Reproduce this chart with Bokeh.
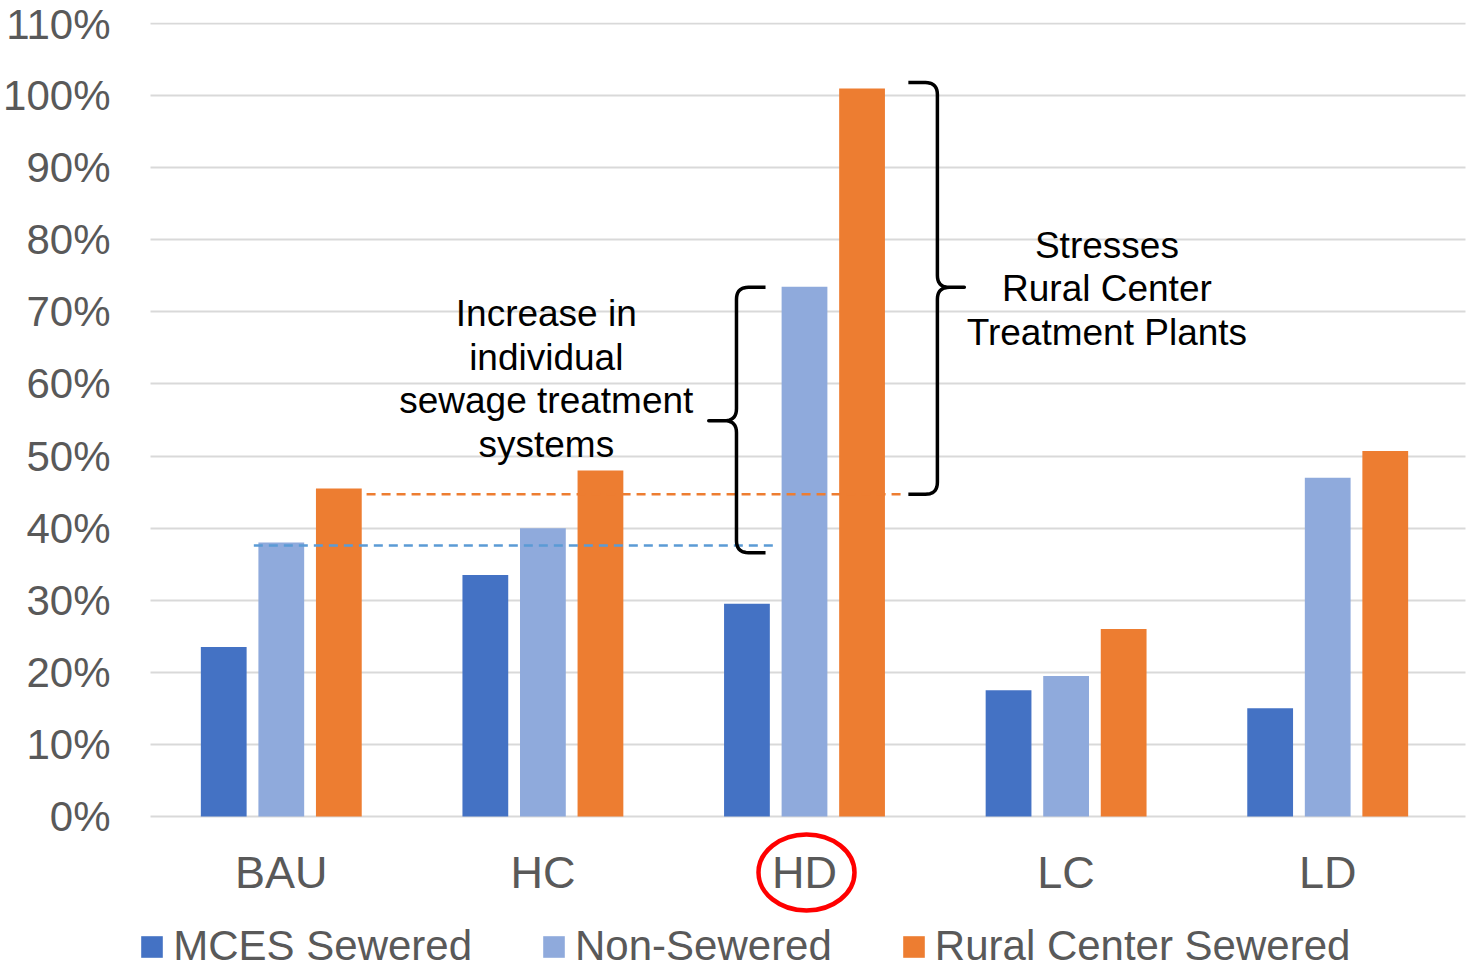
import numpy as np
from bokeh.plotting import figure
from bokeh.models import (FactorRange, Range1d, FixedTicker, PrintfTickFormatter,
                          Legend, LegendItem, Label, ColumnDataSource)
from bokeh.transform import dodge
from bokeh.embed import file_html
from bokeh.resources import INLINE

# ---------------- data ----------------
categories = ["BAU", "HC", "HD", "LC", "LD"]
mces_sewered = [23.5, 33.5, 29.5, 17.5, 15.0]
non_sewered = [38.0, 40.0, 73.5, 19.5, 47.0]
rural_center_sewered = [45.5, 48.0, 101.0, 26.0, 50.7]
series_names = ["MCES Sewered", "Non-Sewered", "Rural Center Sewered"]
series_colors = ["#4472C4", "#8FAADC", "#ED7D31"]
y_ticks = [0, 10, 20, 30, 40, 50, 60, 70, 80, 90, 100, 110]

# annotation levels (percent) and labels
blue_ref_level = 37.6
orange_ref_level = 44.7
left_brace_span = [73.4, 54.9, 36.6]      # top, tip, bottom
right_brace_span = [101.8, 73.4, 44.7]    # top, tip, bottom
note_left = "Increase in\nindividual\nsewage treatment\nsystems"
note_right = "Stresses\nRural Center\nTreatment Plants"
highlight_category = "HD"

FONT = "Liberation Sans"
GRAY = "#595959"

W, H = 1467, 968
FRAME_L, FRAME_R, FRAME_T = 139, 0, 22
PX_PER_CAT = 262.0
PAD = 9.0 / PX_PER_CAT
PX_PER_PCT = 793.0 / 110.0
Y_END = 110 + 1.0 / PX_PER_PCT
Y_START = Y_END - (H - FRAME_T) / PX_PER_PCT

source = ColumnDataSource(dict(cat=categories, s0=mces_sewered,
                               s1=non_sewered, s2=rural_center_sewered))

p = figure(width=W, height=H,
           x_range=FactorRange(*categories, range_padding=PAD, range_padding_units="absolute"),
           y_range=Range1d(Y_START, Y_END), output_backend="svg", toolbar_location=None,
           min_border_left=FRAME_L, min_border_right=FRAME_R, min_border_top=FRAME_T,
           min_border_bottom=0)
p.outline_line_color = None

offsets = [-0.22, 0.0, 0.22]
renderers = []
for i, (name, col) in enumerate(zip(series_names, series_colors)):
    r = p.vbar(x=dodge("cat", offsets[i], range=p.x_range), top="s%d" % i,
               width=0.175, source=source, fill_color=col, line_color=None)
    renderers.append(r)

# axes
p.yaxis.ticker = FixedTicker(ticks=y_ticks)
p.yaxis.formatter = PrintfTickFormatter(format="%d%%")
p.yaxis.axis_line_color = None
p.yaxis.major_tick_line_color = None
p.yaxis.minor_tick_line_color = None
p.yaxis.major_tick_out = 0
p.yaxis.major_label_standoff = 31
p.yaxis.major_label_text_font = FONT
p.yaxis.major_label_text_font_size = "42px"
p.yaxis.major_label_text_color = GRAY

p.xaxis.fixed_location = 0
p.xaxis.axis_line_color = None
p.xaxis.major_tick_line_color = None
p.xaxis.major_tick_out = 0
p.xaxis.major_label_standoff = 30
p.xaxis.major_label_text_font = FONT
p.xaxis.major_label_text_font_size = "45px"
p.xaxis.major_label_text_color = GRAY

p.xgrid.grid_line_color = None
p.ygrid.grid_line_color = "#D9D9D9"
p.ygrid.grid_line_width = 2
p.ygrid.cross_bounds = (0, 5 + 7.0 / PX_PER_CAT)

# px -> data helpers (frame geometry)
PXX = 1.0 / PX_PER_CAT
PXY = 1.0 / PX_PER_PCT

# dashed reference lines
p.line(x=[0.395, 2.397], y=[blue_ref_level, blue_ref_level], line_color="#5B9BD5",
       line_width=2.5, line_dash="9 6")
p.line(x=[0.826, 2.889], y=[orange_ref_level, orange_ref_level], line_color="#ED7D31",
       line_width=2.5, line_dash="9 6")


def brace(xv, xend, xtip, ytop, ymid, ybot, r=12):
    s = 1 if xend > xv else -1
    rx, ry = r * PXX, r * PXY
    t = np.linspace(0, 1, 10)

    def q(p0, c, p1):
        return ((1 - t) ** 2 * p0[0] + 2 * (1 - t) * t * c[0] + t ** 2 * p1[0],
                (1 - t) ** 2 * p0[1] + 2 * (1 - t) * t * c[1] + t ** 2 * p1[1])
    xs, ys = [xend], [ytop]
    for seg in [q((xv + s * rx, ytop), (xv, ytop), (xv, ytop - ry)),
                q((xv, ymid + ry), (xv, ymid), (xv - s * rx, ymid))]:
        xs += list(seg[0]); ys += list(seg[1])
    xs.append(xtip); ys.append(ymid)
    for seg in [q((xv - s * rx, ymid), (xv, ymid), (xv, ymid - ry)),
                q((xv, ybot + ry), (xv, ybot), (xv + s * rx, ybot))]:
        xs += list(seg[0]); ys += list(seg[1])
    xs.append(xend); ys.append(ybot)
    return xs, ys


bx, by = brace(2.240, 2.351, 2.134, *left_brace_span)
p.line(bx, by, line_color="black", line_width=3.5, line_join="round")
bx, by = brace(3.008, 2.897, 3.111, *right_brace_span)
p.line(bx, by, line_color="black", line_width=3.5, line_join="round")

p.add_layout(Label(x=1.513, y=60.7, text=note_left, text_align="center",
                   text_baseline="middle", text_font=FONT, text_font_size="37px",
                   text_color="black", text_line_height=1.06))
p.add_layout(Label(x=3.656, y=73.2, text=note_right, text_align="center",
                   text_baseline="middle", text_font=FONT, text_font_size="37px",
                   text_color="black", text_line_height=1.06))

# red ellipse around the highlighted category label
hl = ColumnDataSource(dict(cat=[highlight_category], y=[-56 * PXY]))
p.ellipse(x=dodge("cat", 2 * PXX, range=p.x_range), y="y", width=96, height=76,
          width_units="screen", height_units="screen", source=hl,
          fill_alpha=0, line_color="#FF0000", line_width=4.5)

legend = Legend(items=[LegendItem(label=n, renderers=[r]) for n, r in zip(series_names, renderers)],
                orientation="horizontal", location=(-2.75, -2),
                label_text_font=FONT, label_text_font_size="42px", label_text_color=GRAY,
                glyph_width=27, glyph_height=27, label_standoff=8, spacing=68,
                border_line_color=None, background_fill_alpha=0, margin=0, padding=0)
p.add_layout(legend, "center")

open("out.html", "w").write(file_html(p, INLINE))
